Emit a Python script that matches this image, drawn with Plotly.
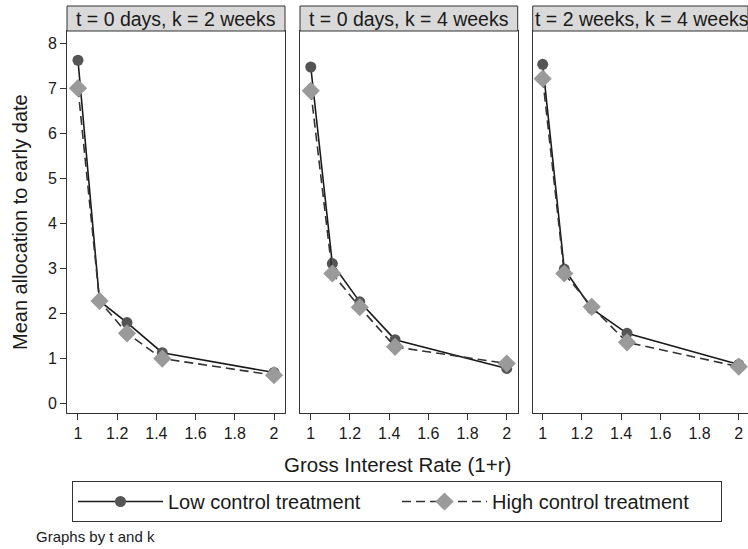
import plotly.graph_objects as go

# ---- data ----
rates = [1.0, 1.11, 1.25, 1.43, 2.0]
panel_titles = ["t = 0 days, k = 2 weeks", "t = 0 days, k = 4 weeks", "t = 2 weeks, k = 4 weeks"]
low_vals = [
    [7.62, 2.27, 1.79, 1.12, 0.68],
    [7.47, 3.10, 2.25, 1.41, 0.77],
    [7.53, 2.98, 2.10, 1.55, 0.86],
]
high_vals = [
    [7.00, 2.27, 1.55, 0.99, 0.62],
    [6.94, 2.88, 2.13, 1.25, 0.88],
    [7.21, 2.88, 2.14, 1.35, 0.81],
]
x_ticks = [1, 1.2, 1.4, 1.6, 1.8, 2]
x_tick_text = ["1", "1.2", "1.4", "1.6", "1.8", "2"]
y_ticks = [0, 1, 2, 3, 4, 5, 6, 7, 8]
series_names = ["Low control treatment", "High control treatment"]

W, H = 748, 549
FONT = "Liberation Sans, Arial, sans-serif"
TXT = "#1a1a1a"

# panel geometry in px
panels_px = [(67, 285), (300, 517.7), (532.7, 748)]
x_ranges = [[0.944, 2.056], [0.945, 2.056], [0.949, 2.047]]
y_bot_px, y_top_px = 413, 31
y_range = [-0.22, 8.27]

fig = go.Figure()
for i in range(3):
    xa = "x" if i == 0 else f"x{i+1}"
    ya = "y" if i == 0 else f"y{i+1}"
    fig.add_trace(go.Scatter(
        x=rates, y=low_vals[i], mode="lines+markers", name=series_names[0],
        xaxis=xa, yaxis=ya, showlegend=(i == 0), legendrank=1,
        line=dict(color="#1a1a1a", width=1.6),
        marker=dict(symbol="circle", size=11, color="#555555"),
    ))
for i in range(3):
    xa = "x" if i == 0 else f"x{i+1}"
    ya = "y" if i == 0 else f"y{i+1}"
    fig.add_trace(go.Scatter(
        x=rates, y=high_vals[i], mode="lines+markers", name=series_names[1],
        xaxis=xa, yaxis=ya, showlegend=(i == 0), legendrank=2,
        line=dict(color="#333333", width=1.6, dash="9px,5px"),
        marker=dict(symbol="diamond", size=14, color="#9a9a9a"),
    ))

ydom = [(H - y_bot_px) / H, (H - y_top_px) / H]
layout = dict(
    width=W, height=H,
    margin=dict(l=0, r=0, t=0, b=0),
    paper_bgcolor="white", plot_bgcolor="white",
    font=dict(family=FONT, color=TXT, size=16),
    showlegend=True,
    legend=dict(
        orientation="h", x=72 / W, y=(H - 481) / H, xanchor="left", yanchor="top",
        bordercolor="#333333", borderwidth=1, bgcolor="white",
        font=dict(family=FONT, size=20, color=TXT),
        itemwidth=85, entrywidth=224, traceorder="normal",
    ),
)
for i in range(3):
    suffix = "" if i == 0 else str(i + 1)
    l, r = panels_px[i]
    layout["xaxis" + suffix] = dict(
        domain=[l / W, min(r / W, 1.0)], range=x_ranges[i],
        tickmode="array", tickvals=x_ticks, ticktext=x_tick_text,
        ticks="outside", ticklen=6, tickcolor="#333", tickwidth=1,
        showline=True, linecolor="#333", linewidth=1, mirror=True,
        showgrid=False, zeroline=False,
        tickfont=dict(size=16, color=TXT), anchor="y" + suffix,
    )
    layout["yaxis" + suffix] = dict(
        domain=ydom, range=y_range,
        tickmode="array", tickvals=y_ticks,
        ticks="outside" if i == 0 else "", ticklen=6, tickcolor="#333",
        showticklabels=(i == 0),
        showline=True, linecolor="#333", linewidth=1, mirror=True,
        showgrid=False, zeroline=False,
        tickfont=dict(size=16, color=TXT), anchor="x" + suffix,
    )
fig.update_layout(**layout)

shapes = []
annotations = []
for i in range(3):
    l, r = panels_px[i]
    shapes.append(dict(
        type="rect", xref="paper", yref="paper",
        x0=l / W, x1=min(r / W, 1.0), y0=(H - 31) / H, y1=(H - 6) / H,
        fillcolor="#d9d9d9", line=dict(color="#333", width=1), layer="above",
    ))
    annotations.append(dict(
        text=panel_titles[i], xref="paper", yref="paper",
        x=(l + 0) / W if i == 2 else (l + r) / 2 / W,
        xanchor="left" if i == 2 else "center",
        y=(H - 18.5) / H, yanchor="middle", showarrow=False,
        font=dict(size=19.5, family=FONT, color=TXT),
    ))

annotations.append(dict(
    text="Gross Interest Rate (1+r)", xref="paper", yref="paper",
    x=397 / W, y=(H - 464) / H, xanchor="center", yanchor="middle",
    showarrow=False, font=dict(size=20.5, family=FONT, color=TXT),
))
annotations.append(dict(
    text="Mean allocation to early date", xref="paper", yref="paper",
    x=20 / W, y=(H - 222) / H, xanchor="center", yanchor="middle",
    textangle=-90, showarrow=False, font=dict(size=20, family=FONT, color=TXT),
))
annotations.append(dict(
    text="Graphs by t and k", xref="paper", yref="paper",
    x=34 / W, y=(H - 536) / H, xanchor="left", yanchor="middle",
    showarrow=False, font=dict(size=15, family=FONT, color=TXT),
))
fig.update_layout(shapes=shapes, annotations=annotations)

fig.write_html("out.html")
